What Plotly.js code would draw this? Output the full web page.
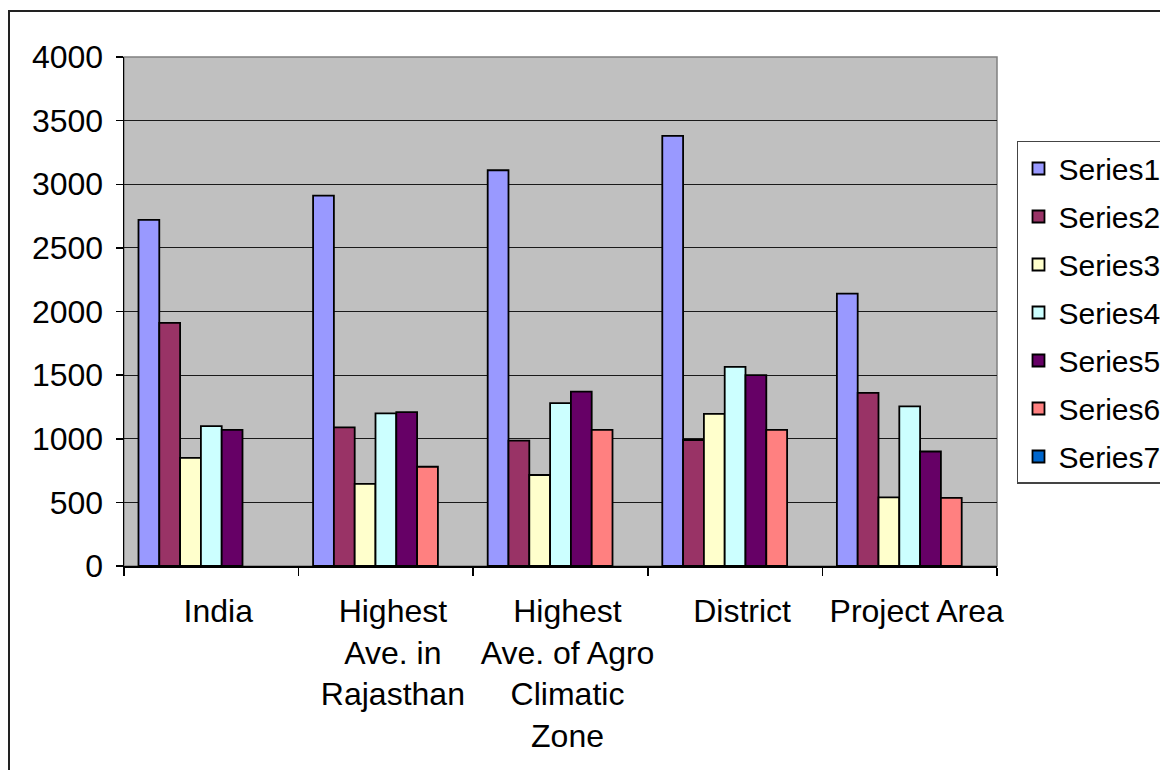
<!DOCTYPE html>
<html>
<head>
<meta charset="utf-8">
<script src="https://cdn.plot.ly/plotly-3.0.1.min.js"></script>
<style>
html, body { margin: 0; padding: 0; width: 1160px; height: 770px; overflow: hidden; background: #fff; }
#frame { position: absolute; left: 8px; top: 10px; border: 2px solid #222; width: 1200px; height: 800px; }
#chart { width: 1200px; height: 800px; }
</style>
</head>
<body>
<div id="frame"><div id="chart"></div></div>
<script>
const categories = ["India", "Highest<br>Ave. in<br>Rajasthan", "Highest<br>Ave. of Agro<br>Climatic<br>Zone", "District", "Project Area"];
const seriesNames = ["Series1", "Series2", "Series3", "Series4", "Series5", "Series6", "Series7"];
const series1 = [2720, 2910, 3110, 3380, 2140];
const series2 = [1910, 1090, 985, 990, 1360];
const series3 = [850, 645, 715, 1195, 540];
const series4 = [1100, 1200, 1280, 1565, 1255];
const series5 = [1070, 1210, 1370, 1500, 900];
const series6 = [null, 780, 1070, 1070, 535];
const series7 = [null, null, null, null, null];
const yTickVals = [0, 500, 1000, 1500, 2000, 2500, 3000, 3500, 4000];

const colors = ["#9999FF", "#993366", "#FFFFCC", "#CCFFFF", "#660066", "#FF8080", "#0066CC"];
const allSeries = [series1, series2, series3, series4, series5, series6, series7];

const traces = allSeries.map((vals, i) => ({
  type: "bar",
  name: seriesNames[i],
  x: categories,
  y: vals,
  legendgroup: "g" + i,
  marker: { color: colors[i], line: { color: "#000", width: 1.8 } },
  hoverinfo: "none"
}));

const font = { family: "Liberation Sans, Arial, sans-serif", size: 32, color: "#000" };

const layout = {
  width: 1200,
  height: 800,
  margin: { l: 114, r: 213, t: 45, b: 246, autoexpand: false },
  paper_bgcolor: "#fff",
  plot_bgcolor: "#C0C0C0",
  font: font,
  barmode: "group",
  bargap: 0.166,
  bargroupgap: 0,
  showlegend: true,
  legend: {
    x: 1.0229, y: 0.835, xanchor: "left", yanchor: "top",
    bgcolor: "#fff", bordercolor: "#444", borderwidth: 1.5,
    font: { family: "Liberation Sans, Arial, sans-serif", size: 30, color: "#000" },
    tracegroupgap: 6
  },
  xaxis: {
    type: "category",
    showline: true, linecolor: "#000", linewidth: 1.5,
    ticks: "outside", tickson: "boundaries", ticklen: 8, tickcolor: "#000", tickwidth: 1.5,
    tickangle: 0,
    showgrid: false, zeroline: false,
    tickfont: font,
    ticklabelstandoff: 16,
    ticklabelshift: 7,
    fixedrange: true
  },
  yaxis: {
    range: [0, 4000],
    tickvals: yTickVals,
    showline: true, linecolor: "#000", linewidth: 1.5,
    ticks: "outside", ticklen: 7, tickcolor: "#000", tickwidth: 1.5,
    showgrid: true, gridcolor: "#1a1a1a", gridwidth: 1,
    zeroline: false,
    tickfont: font,
    ticklabelstandoff: 6,
    fixedrange: true
  },
  shapes: [{
    type: "rect", xref: "paper", yref: "paper", x0: 0, x1: 1, y0: 0, y1: 1,
    line: { color: "#808080", width: 1.5 }, layer: "below"
  }]
};

Plotly.newPlot("chart", traces, layout, { staticPlot: true, displayModeBar: false });
</script>
</body>
</html>
